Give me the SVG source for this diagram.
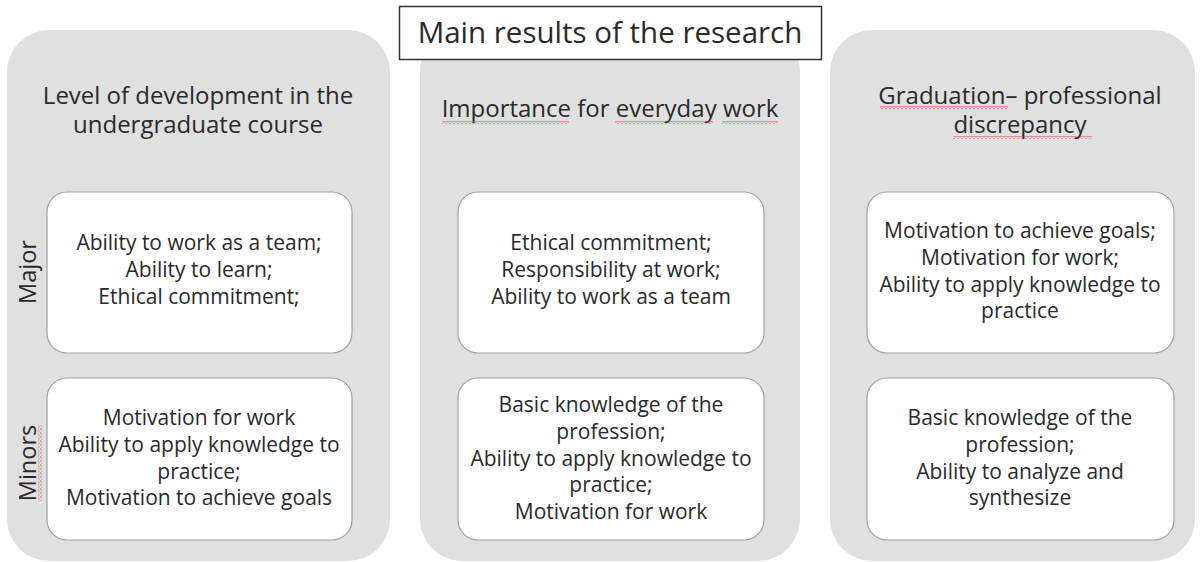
<svg xmlns="http://www.w3.org/2000/svg" width="1200" height="562" viewBox="0 0 1200 562">
<style>
.panel{fill:#e0e0e0;stroke:none}
.box{fill:#ffffff;stroke:#a0a0a0;stroke-width:1.2}
.title{fill:#ffffff;stroke:#333333;stroke-width:1.5}
text{font-family:"Open Sans","Liberation Sans",sans-serif;fill:#2a2a2a;text-anchor:middle}
.t{font-size:29.5px}
.h{font-size:24px}
.b{font-size:21px}
.v{font-size:23.5px}
</style>
<defs>
<pattern id="wave" x="0" y="0" width="4" height="3" patternUnits="userSpaceOnUse">
<path d="M0 2.5 L2 0.5 L4 2.5" fill="none" stroke="#e23b3b" stroke-width="0.9"/>
</pattern>
</defs>
<rect width="1200" height="562" fill="#ffffff"/>

<g id="panel-left">
<rect class="panel" x="7" y="30" width="383" height="531" rx="42"/>
<text class="h" x="198" y="104">Level of development in the</text>
<text class="h" x="198" y="133">undergraduate course</text>
</g>
<g id="panel-middle">
<rect class="panel" x="420" y="30" width="380" height="531" rx="42"/>
<text class="h" x="610" y="117">Importance for everyday work</text>
<rect x="442" y="121" width="127" height="3" fill="url(#wave)"/>
<rect x="615" y="121" width="98" height="3" fill="url(#wave)"/>
<rect x="722" y="121" width="56" height="3" fill="url(#wave)"/>
</g>
<g id="panel-right">
<rect class="panel" x="830" y="30" width="365" height="531" rx="42"/>
<text class="h" x="1020" y="104">Graduation– professional</text>
<text class="h" x="1020" y="133">discrepancy</text>
<rect x="880" y="106" width="128" height="3" fill="url(#wave)"/>
<rect x="953" y="136" width="139" height="3" fill="url(#wave)"/>
</g>

<g id="title">
<rect class="title" x="399.5" y="6.5" width="422" height="53"/>
<text class="t" x="610" y="43">Main results of the research</text>
</g>

<g id="label-major">
<text class="v" transform="translate(36 272) rotate(-90)">Major</text>
</g>
<g id="label-minors">
<text class="v" transform="translate(36 463) rotate(-90)">Minors</text>
<g transform="translate(40 463) rotate(-90)">
<rect x="-38" y="-1.5" width="76" height="3" fill="url(#wave)"/>
</g>
</g>

<g id="left-major">
<rect class="box" x="47" y="192" width="305" height="161" rx="20"/>
<text class="b" x="199" y="250">Ability to work as a team;</text>
<text class="b" x="199" y="277">Ability to learn;</text>
<text class="b" x="199" y="304">Ethical commitment;</text>
</g>
<g id="left-minor">
<rect class="box" x="47" y="378" width="305" height="162" rx="20"/>
<text class="b" x="199" y="425">Motivation for work</text>
<text class="b" x="199" y="452">Ability to apply knowledge to</text>
<text class="b" x="199" y="479">practice;</text>
<text class="b" x="199" y="505">Motivation to achieve goals</text>
</g>

<g id="middle-major">
<rect class="box" x="458" y="192" width="306" height="161" rx="20"/>
<text class="b" x="611" y="250">Ethical commitment;</text>
<text class="b" x="611" y="277">Responsibility at work;</text>
<text class="b" x="611" y="304">Ability to work as a team</text>
</g>
<g id="middle-minor">
<rect class="box" x="458" y="378" width="306" height="162" rx="20"/>
<text class="b" x="611" y="412">Basic knowledge of the</text>
<text class="b" x="611" y="439">profession;</text>
<text class="b" x="611" y="466">Ability to apply knowledge to</text>
<text class="b" x="611" y="492">practice;</text>
<text class="b" x="611" y="519">Motivation for work</text>
</g>

<g id="right-major">
<rect class="box" x="867" y="192" width="307" height="161" rx="20"/>
<text class="b" x="1020" y="238">Motivation to achieve goals;</text>
<text class="b" x="1020" y="265">Motivation for work;</text>
<text class="b" x="1020" y="292">Ability to apply knowledge to</text>
<text class="b" x="1020" y="318">practice</text>
</g>
<g id="right-minor">
<rect class="box" x="867" y="378" width="307" height="162" rx="20"/>
<text class="b" x="1020" y="425">Basic knowledge of the</text>
<text class="b" x="1020" y="452">profession;</text>
<text class="b" x="1020" y="479">Ability to analyze and</text>
<text class="b" x="1020" y="505">synthesize</text>
</g>
<g id="connectors"/>
</svg>
